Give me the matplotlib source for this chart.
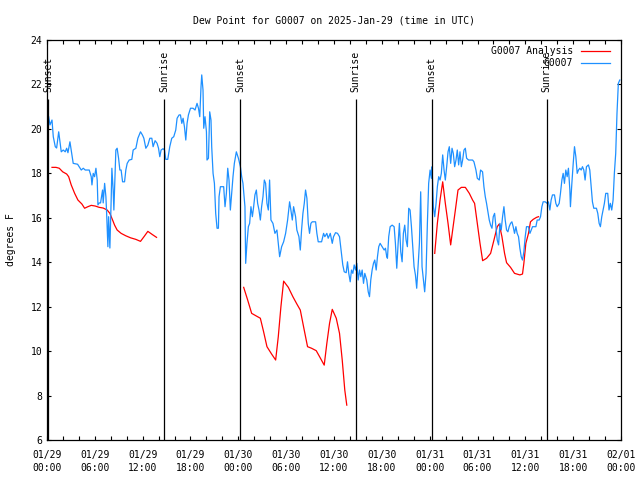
"""
Dew point chart for station G0007, 2025-Jan-29 .. 2025-Feb-01 (UTC).
Observed series (blue) vs. analysis (red), sunrise/sunset markers.
"""

import numpy as np
import matplotlib
matplotlib.use("Agg")
import matplotlib.pyplot as plt
from matplotlib.ticker import MultipleLocator

plt.rcParams["font.family"] = ["DejaVu Sans Mono"]

TITLE = "Dew Point for G0007 on 2025-Jan-29 (time in UTC)"
YLABEL = "degrees F"

# hours since 2025-01-29 00:00 UTC
tick_hours = [0, 6, 12, 18, 24, 30, 36, 42, 48, 54, 60, 66, 72]
tick_labels = ["01/29\n00:00", "01/29\n06:00", "01/29\n12:00", "01/29\n18:00",
               "01/30\n00:00", "01/30\n06:00", "01/30\n12:00", "01/30\n18:00",
               "01/31\n00:00", "01/31\n06:00", "01/31\n12:00", "01/31\n18:00",
               "02/01\n00:00"]

sun_hours = [0.16, 14.69, 24.2, 38.73, 48.25, 62.65]
sun_labels = ["Sunset", "Sunrise", "Sunset", "Sunrise", "Sunset", "Sunrise"]

# observed G0007
obs_hours = [
    0.21, 0.38, 0.63, 0.79, 1.04, 1.21, 1.47, 1.63, 1.79, 2.04,
    2.29, 2.47, 2.63, 2.88, 3.13, 3.29, 3.84, 4.04, 4.30, 4.55,
    4.80, 5.30, 5.55, 5.64, 5.80, 5.97, 6.14, 6.30, 6.39, 6.55,
    6.72, 6.97, 7.05, 7.23, 7.39, 7.48, 7.64, 7.73, 7.89, 8.05,
    8.14, 8.30, 8.39, 8.55, 8.64, 8.80, 8.98, 9.14, 9.30, 9.48,
    9.73, 9.89, 10.06, 10.31, 10.64, 10.81, 11.15, 11.40, 11.73, 11.98,
    12.15, 12.40, 12.65, 12.90, 13.15, 13.31, 13.56, 13.81, 13.99, 14.15,
    14.31, 14.56, 14.74, 14.90, 15.15, 15.40, 15.65, 15.90, 16.15, 16.32,
    16.57, 16.74, 16.91, 17.07, 17.24, 17.41, 17.57, 17.74, 18.00, 18.32,
    18.57, 18.82, 19.00, 19.16, 19.32, 19.41, 19.57, 19.66, 19.82, 20.00,
    20.07, 20.25, 20.41, 20.57, 20.66, 20.83, 21.00, 21.16, 21.33, 21.50,
    21.58, 21.75, 22.16, 22.33, 22.50, 22.67, 22.83, 23.00, 23.17, 23.33,
    23.50, 23.75, 24.01, 24.26, 24.42, 24.58, 24.83, 24.92, 25.08, 25.26,
    25.42, 25.58, 25.76, 25.92, 26.08, 26.26, 26.42, 26.59, 26.76, 26.92,
    27.09, 27.26, 27.42, 27.59, 27.76, 27.92, 28.09, 28.34, 28.59, 28.84,
    29.18, 29.43, 29.68, 29.93, 30.18, 30.43, 30.59, 30.77, 30.93, 31.18,
    31.34, 31.60, 31.77, 31.93, 32.10, 32.27, 32.43, 32.60, 32.77, 32.93,
    33.10, 33.27, 33.69, 33.85, 34.02, 34.44, 34.69, 34.85, 35.10, 35.27,
    35.53, 35.78, 35.94, 36.19, 36.44, 36.69, 36.94, 37.10, 37.28, 37.53,
    37.69, 37.85, 38.03, 38.19, 38.36, 38.53, 38.69, 38.86, 39.03, 39.20,
    39.36, 39.53, 39.70, 39.86, 40.11, 40.29, 40.45, 40.61, 40.78, 40.95,
    41.11, 41.29, 41.45, 41.61, 41.78, 42.03, 42.29, 42.45, 42.61, 42.70,
    42.86, 43.04, 43.29, 43.54, 43.70, 43.87, 44.04, 44.20, 44.37, 44.54,
    44.70, 44.87, 45.04, 45.20, 45.37, 45.54, 45.71, 45.87, 46.04, 46.21,
    46.37, 46.54, 46.71, 46.87, 47.04, 47.21, 47.37, 47.54, 47.71, 47.87,
    48.05, 48.21, 48.30, 48.46, 48.63, 48.80, 48.96, 49.13, 49.30, 49.46,
    49.63, 49.80, 49.96, 50.13, 50.30, 50.46, 50.63, 50.80, 50.96, 51.13,
    51.30, 51.46, 51.63, 51.80, 51.97, 52.13, 52.30, 52.47, 52.63, 52.88,
    53.38, 53.55, 53.80, 53.97, 54.22, 54.38, 54.63, 54.80, 54.97, 55.13,
    55.30, 55.47, 55.64, 55.81, 55.97, 56.14, 56.31, 56.47, 56.64, 56.81,
    56.97, 57.14, 57.31, 57.47, 57.64, 57.81, 57.97, 58.14, 58.31, 58.47,
    58.64, 58.81, 58.97, 59.14, 59.31, 59.48, 59.64, 59.81, 59.98, 60.14,
    60.39, 60.57, 60.73, 60.90, 61.32, 61.48, 61.73, 61.90, 62.07, 62.23,
    62.48, 62.73, 62.89, 63.07, 63.23, 63.40, 63.65, 63.82, 63.99, 64.24,
    64.40, 64.58, 64.74, 64.90, 65.07, 65.24, 65.40, 65.58, 65.65, 65.83,
    66.00, 66.16, 66.33, 66.50, 66.66, 66.83, 67.00, 67.16, 67.33, 67.49,
    67.66, 67.91, 68.08, 68.25, 68.41, 68.58, 68.91, 69.08, 69.25, 69.41,
    69.58, 69.75, 69.91, 70.08, 70.33, 70.49, 70.66, 70.83, 71.00, 71.16,
    71.33, 71.49, 71.66, 71.84,
]
obs_values = [
    20.55, 20.18, 20.40, 19.65, 19.20, 19.14, 19.87, 19.42, 18.97, 19.05,
    18.97, 19.13, 18.93, 19.42, 18.83, 18.45, 18.41, 18.30, 18.15, 18.23,
    18.15, 18.15, 17.85, 17.48, 18.00, 17.85, 18.23, 17.70, 16.58, 16.67,
    16.67, 17.25, 16.67, 17.55, 16.95, 16.22, 14.70, 16.05, 14.64, 16.80,
    18.23, 17.25, 16.35, 18.15, 19.05, 19.13, 18.68, 18.15, 18.15, 17.62,
    17.62, 18.15, 18.45, 18.60, 18.63, 19.05, 19.13, 19.58, 19.87, 19.72,
    19.58, 19.13, 19.27, 19.58, 19.58, 19.20, 19.47, 19.35, 19.13, 18.75,
    19.05, 19.11, 19.05, 18.63, 18.63, 19.20, 19.58, 19.65, 19.95, 20.48,
    20.63, 20.63, 20.25, 20.48, 20.10, 19.50, 20.25, 20.63, 20.93, 20.93,
    20.85, 21.15, 20.93, 20.55, 21.90, 22.43, 21.75, 20.03, 20.55, 19.87,
    18.60, 18.68, 20.77, 20.40, 19.20, 18.00, 17.55, 16.20, 15.53, 15.53,
    16.95, 17.40, 17.40, 16.50, 17.10, 18.23, 17.70, 16.35, 17.10, 17.85,
    18.45, 18.97, 18.68, 18.30, 17.85, 17.55, 16.50, 13.95, 14.85, 15.60,
    15.75, 16.50, 16.05, 16.50, 17.03, 17.25, 16.65, 16.35, 15.90, 16.50,
    16.95, 17.70, 17.55, 16.65, 16.35, 17.70, 15.90, 15.75, 15.30, 15.45,
    14.25, 14.70, 14.92, 15.30, 15.90, 16.72, 16.35, 15.90, 16.50, 16.05,
    15.45, 15.15, 14.55, 15.45, 16.20, 16.65, 17.25, 16.88, 15.75, 15.30,
    15.75, 15.82, 15.82, 15.30, 14.92, 14.92, 15.30, 15.15, 15.30, 15.08,
    15.30, 14.85, 15.15, 15.33, 15.30, 15.15, 14.40, 13.88, 13.57, 13.53,
    14.02, 13.50, 13.12, 13.65, 13.50, 13.88, 13.65, 13.95, 13.20, 13.65,
    13.35, 13.65, 13.05, 13.50, 13.20, 12.67, 12.45, 13.20, 13.65, 13.95,
    14.10, 13.65, 14.25, 14.70, 14.85, 14.70, 14.55, 14.63, 14.25, 14.18,
    15.15, 15.60, 15.67, 15.60, 14.85, 13.73, 14.85, 15.75, 14.47, 14.02,
    15.30, 15.67, 15.00, 14.70, 16.43, 16.35, 15.60, 14.70, 13.80, 13.43,
    12.83, 13.80, 14.85, 17.17, 13.80, 13.20, 12.67, 13.50, 15.75, 17.55,
    18.15, 17.78, 18.30, 16.50, 16.05, 16.65, 17.40, 17.85, 17.70, 18.00,
    18.83, 18.15, 17.70, 18.30, 18.97, 19.20, 18.45, 19.13, 18.90, 18.30,
    18.60, 19.05, 18.38, 18.97, 18.30, 18.60, 19.05, 19.13, 18.68, 18.60,
    18.60, 18.52, 18.15, 17.78, 17.70, 18.15, 18.07, 17.40, 16.95, 16.65,
    16.27, 15.90, 15.67, 15.53, 16.05, 16.20, 15.60, 15.00, 14.78, 15.75,
    15.45, 16.05, 16.50, 15.90, 15.45, 15.37, 15.60, 15.75, 15.82, 15.60,
    15.30, 15.60, 15.30, 15.15, 14.63, 14.25, 14.10, 14.47, 15.15, 15.60,
    15.60, 15.30, 15.45, 15.60, 15.60, 15.90, 15.90, 16.05, 16.50, 16.72,
    16.72, 16.65, 16.72, 16.35, 16.80, 17.03, 17.03, 16.65, 16.50, 16.65,
    17.10, 17.70, 18.00, 17.55, 18.15, 17.85, 18.23, 17.25, 16.50, 17.55,
    18.45, 19.20, 18.75, 18.00, 18.15, 18.23, 18.15, 18.30, 18.15, 17.70,
    18.30, 18.38, 18.15, 17.40, 16.72, 16.43, 16.43, 16.20, 15.75, 15.60,
    16.05, 16.35, 16.65, 17.10, 17.10, 16.35, 16.65, 16.35, 16.80, 18.00,
    18.90, 20.70, 22.05, 22.20,
]

# G0007 analysis, three pieces with gaps (NaN breaks the line)
ana_hours = [
    0.63, 1.13, 1.54, 1.97, 2.47, 2.72, 3.04, 3.47, 3.88, 4.38,
    4.72, 5.13, 5.55, 6.05, 6.55, 7.05, 7.55, 7.89, 8.23, 8.48,
    8.80, 9.30, 9.89, 10.48, 11.14, 11.73, 12.23, 12.65, 13.24, 13.74,
    19.0,
    24.67, 25.17, 25.67, 26.26, 26.76, 27.17, 27.59, 28.17, 28.68, 29.01,
    29.34, 29.68, 30.27, 30.84, 31.34, 31.77, 32.18, 32.68, 33.18, 33.77,
    34.19, 34.77, 35.10, 35.44, 35.78, 36.28, 36.69, 37.03, 37.35, 37.60,
    43.0,
    48.63, 48.96, 49.30, 49.63, 49.96, 50.30, 50.63, 50.88, 51.22, 51.55,
    51.97, 52.47, 52.97, 53.38, 53.63, 53.97, 54.31, 54.64, 55.14, 55.64,
    56.06, 56.47, 56.72, 57.06, 57.39, 57.64, 58.14, 58.64, 59.31, 59.64,
    59.81, 60.06, 60.39, 60.64, 60.98, 61.40, 61.65,
]
ana_values = [
    18.27, 18.27, 18.23, 18.07, 17.97, 17.85, 17.48, 17.10, 16.80, 16.62,
    16.43, 16.50, 16.56, 16.53, 16.47, 16.44, 16.35, 16.20, 15.90, 15.67,
    15.45, 15.30, 15.19, 15.10, 15.03, 14.94, 15.18, 15.39, 15.24, 15.12,
    np.nan,
    12.87, 12.30, 11.70, 11.58, 11.48, 10.87, 10.20, 9.87, 9.60, 10.65,
    12.00, 13.15, 12.87, 12.45, 12.12, 11.85, 11.10, 10.20, 10.13, 10.02,
    9.75, 9.37, 10.35, 11.25, 11.88, 11.48, 10.80, 9.60, 8.25, 7.57,
    np.nan,
    14.40, 15.75, 16.80, 17.62, 16.65, 15.75, 14.78, 15.45, 16.35, 17.25,
    17.37, 17.37, 17.10, 16.80, 16.65, 15.75, 14.85, 14.07, 14.18, 14.40,
    15.00, 15.60, 15.72, 15.15, 14.40, 13.98, 13.77, 13.50, 13.43, 13.47,
    13.95, 14.85, 15.30, 15.82, 15.93, 16.02, 16.05,
]


def main():
    fig = plt.figure(figsize=(6.4, 4.8), dpi=100)
    ax = fig.add_axes([0.0734, 0.0833, 0.897, 0.8333])

    ax.plot(ana_hours, ana_values, color="#ff0000", lw=0.9, label="G0007 Analysis")
    ax.plot(obs_hours, obs_values, color="#1e90ff", lw=0.9, label="G0007")

    # sunrise / sunset markers
    ax.vlines(sun_hours, 6, 21.35, color="black", lw=0.9)
    for h, lab in zip(sun_hours, sun_labels):
        ax.text(h, 21.66, lab, rotation=90, ha="center", va="bottom", fontsize=7)

    ax.set_xlim(0, 72)
    ax.set_ylim(6, 24)
    ax.set_xticks(tick_hours)
    ax.set_xticklabels(tick_labels, fontsize=7, linespacing=1.4)
    ax.xaxis.set_minor_locator(MultipleLocator(2))
    ax.yaxis.set_major_locator(MultipleLocator(2))
    ax.tick_params(axis="x", pad=7)
    ax.tick_params(axis="y", labelsize=7)
    ax.tick_params(which="both", direction="in", top=True, right=True,
                   length=3, width=0.8)
    for s in ax.spines.values():
        s.set_linewidth(0.9)

    ax.set_title(TITLE, fontsize=7, pad=12)
    ax.set_ylabel(YLABEL, fontsize=7, labelpad=10.5)

    ax.legend(loc="upper right", bbox_to_anchor=(1 - 8 / 575, 1 - 3 / 400),
              frameon=False, fontsize=7, markerfirst=False,
              handlelength=3.0, handletextpad=0.8, labelspacing=0.25,
              borderaxespad=0.1, borderpad=0.2)

    fig.savefig("out.png", dpi=100)
    plt.close(fig)


if __name__ == "__main__":
    main()
